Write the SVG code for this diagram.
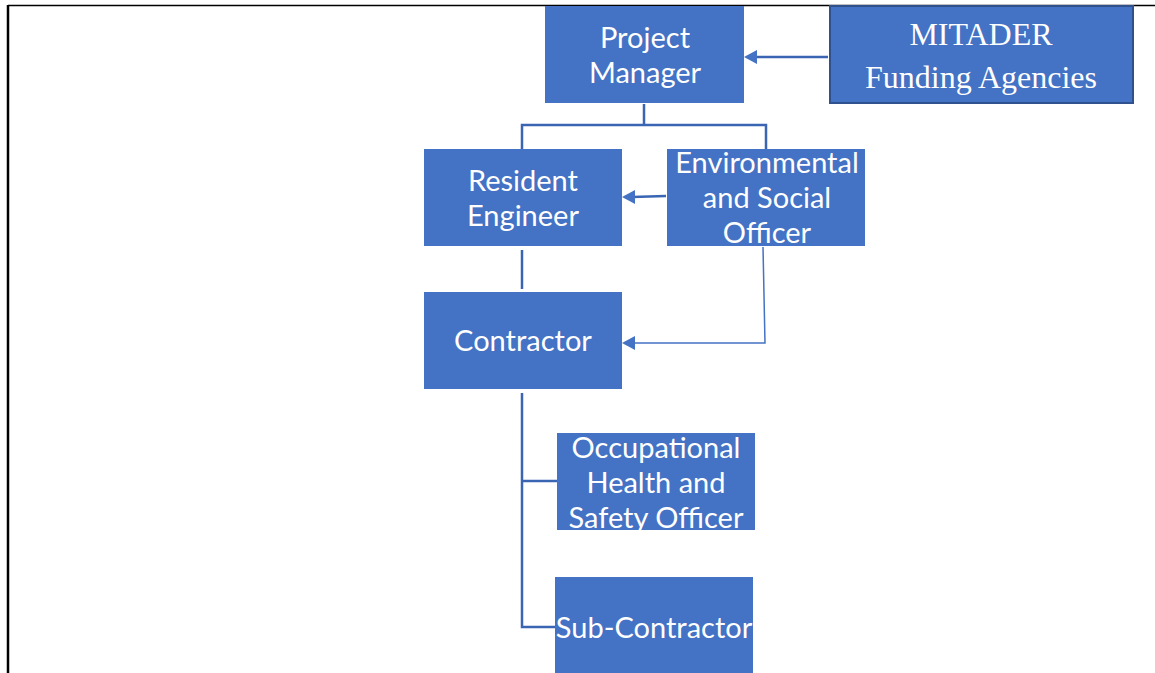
<svg xmlns="http://www.w3.org/2000/svg" width="1155" height="673" viewBox="0 0 1155 673">
<style>
  .box { fill: #4472C4; }
  .lbl { font-family: Lato, "Liberation Sans", sans-serif; font-size: 29px; fill: #ffffff; text-anchor: middle; }
  .ser { font-family: "Liberation Serif", serif; font-size: 32px; fill: #ffffff; text-anchor: middle; }
  .ln { fill: none; stroke: #3A65B3; stroke-width: 2.5; }
  .thin { fill: none; stroke: #4472C4; stroke-width: 1.5; }
  .frame { stroke: #000000; fill: none; }
</style>
<rect width="1155" height="673" fill="#ffffff"/>
<g id="frame">
  <line class="frame" x1="8" y1="5.5" x2="1155" y2="5.5" stroke-width="1.5"/>
  <line class="frame" x1="8" y1="5" x2="8" y2="673" stroke-width="2.5"/>
</g>
<g id="connectors">
  <path class="ln" d="M644,104 V125 M522,149 V125 H766 V149"/>
  <path class="ln" d="M522,250 V289"/>
  <path class="ln" d="M522,393 V627 H555 M522,481 H557"/>
  <line class="ln" x1="828" y1="57" x2="754" y2="57" stroke="#4472C4"/>
  <path d="M744,57 L757,50 L757,64 Z" fill="#4472C4"/>
  <line class="ln" x1="666" y1="196" x2="632" y2="197" stroke="#4472C4"/>
  <path d="M622,197 L635,190 L635,204 Z" fill="#4472C4"/>
  <path class="thin" d="M763,247 L765,343 H632"/>
  <path d="M622,343 L635,336 L635,350 Z" fill="#4472C4"/>
</g>
<g id="project-manager">
  <rect class="box" x="545" y="6" width="199" height="97"/>
  <text class="lbl" x="645" y="48">Project</text>
  <text class="lbl" x="645" y="83">Manager</text>
</g>
<g id="mitader">
  <rect x="830" y="6" width="303" height="97" fill="#4472C4" stroke="#2F528F" stroke-width="2"/>
  <text class="ser" x="981" y="45">MITADER</text>
  <text class="ser" x="981" y="88">Funding Agencies</text>
</g>
<g id="resident-engineer">
  <rect class="box" x="424" y="149" width="198" height="97"/>
  <text class="lbl" x="523" y="191">Resident</text>
  <text class="lbl" x="523" y="226">Engineer</text>
</g>
<g id="env-social-officer">
  <rect class="box" x="667" y="149" width="198" height="97"/>
  <text class="lbl" x="767" y="173">Environmental</text>
  <text class="lbl" x="767" y="208">and Social</text>
  <text class="lbl" x="767" y="243">Officer</text>
</g>
<g id="contractor">
  <rect class="box" x="424" y="292" width="198" height="97"/>
  <text class="lbl" x="523" y="351">Contractor</text>
</g>
<g id="ohs-officer">
  <rect class="box" x="557" y="433" width="198" height="97"/>
  <text class="lbl" x="656" y="458">Occupational</text>
  <text class="lbl" x="656" y="493">Health and</text>
  <text class="lbl" x="656" y="528">Safety Officer</text>
</g>
<g id="sub-contractor">
  <rect class="box" x="555" y="577" width="198" height="97"/>
  <text class="lbl" x="654" y="638">Sub-Contractor</text>
</g>
</svg>
